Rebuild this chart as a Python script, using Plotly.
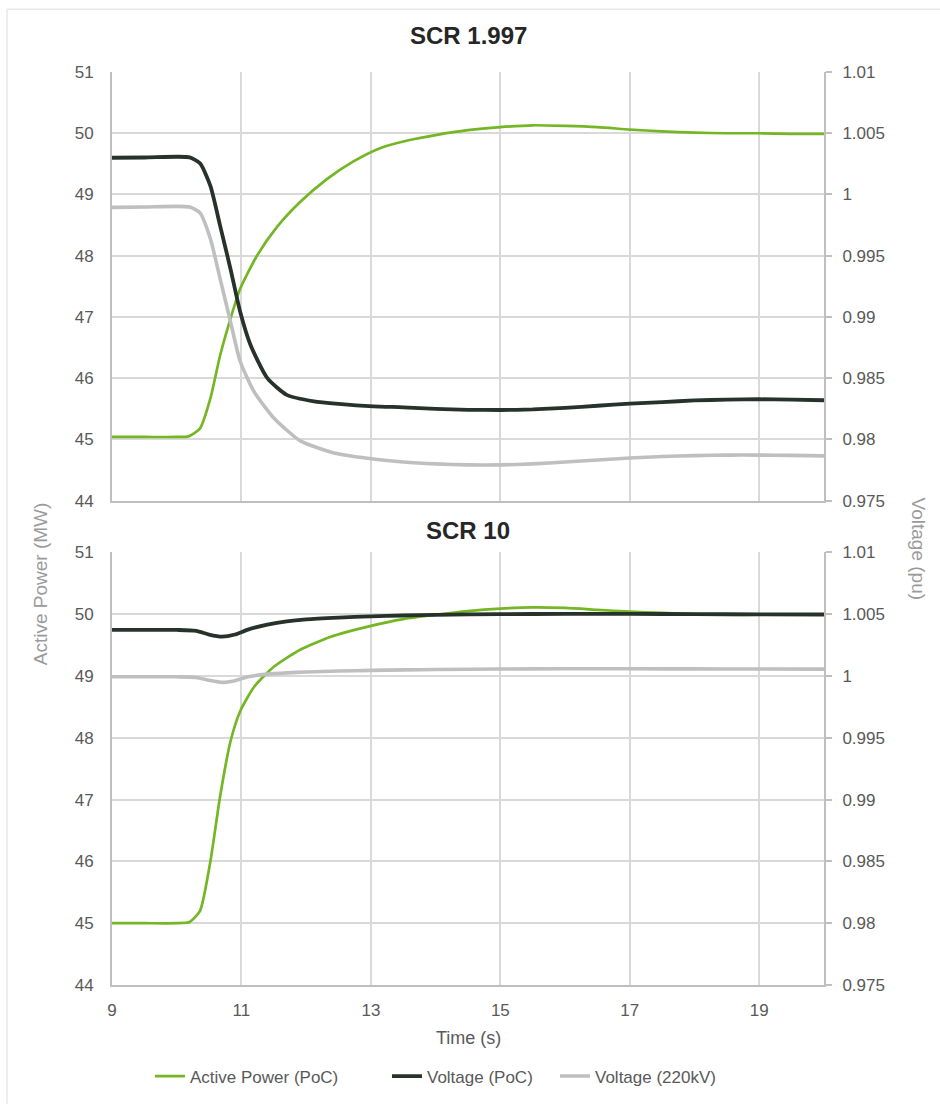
import plotly.graph_objects as go
from plotly.subplots import make_subplots

# ---------------- data ----------------
# SCR 1.997 (top)
t_p1 = [9, 9.5, 10.0, 10.18, 10.36, 10.52, 10.67, 10.83, 10.98, 11.24, 11.55, 11.91, 12.32, 12.73,
        13.15, 13.6, 14.0, 14.5, 15.0, 15.5, 16.0, 16.5, 17.0, 17.5, 18.0, 18.5, 19.0, 19.5, 20.0]
p1 = [45.04, 45.04, 45.04, 45.05, 45.18, 45.67, 46.37, 46.97, 47.46, 48.0, 48.47, 48.88, 49.25, 49.54,
      49.76, 49.89, 49.97, 50.05, 50.1, 50.13, 50.12, 50.1, 50.06, 50.03, 50.01, 50.0, 50.0, 49.99, 49.99]

t_v1 = [9, 9.5, 10.0, 10.2, 10.36, 10.52, 10.67, 10.83, 10.98, 11.14, 11.4, 11.7, 12.12, 12.5, 13.04,
        13.5, 14.0, 14.5, 15.0, 15.5, 16.0, 16.5, 17.0, 17.5, 18.0, 18.5, 19.0, 19.5, 20.0]
v1 = [1.0030, 1.00302, 1.00308, 1.00303, 1.00255, 1.0007, 0.99746, 0.99394, 0.99042, 0.98771, 0.985,
      0.98364, 0.98311, 0.9829, 0.9827, 0.98262, 0.9825, 0.98242, 0.9824, 0.98245, 0.98258, 0.98275,
      0.98292, 0.98305, 0.98318, 0.98325, 0.98328, 0.98325, 0.9832]

t_g1 = [9, 9.5, 10.0, 10.2, 10.36, 10.52, 10.67, 10.83, 10.98, 11.19, 11.5, 11.91, 12.43, 13.1, 13.5,
        14.0, 14.5, 15.0, 15.5, 16.0, 16.5, 17.0, 17.5, 18.0, 18.5, 19.0, 19.5, 20.0]
g1 = [0.99895, 0.99898, 0.99903, 0.99897, 0.9985, 0.99638, 0.99313, 0.98963, 0.98638, 0.98394, 0.98175,
      0.97988, 0.9789, 0.97836, 0.97815, 0.978, 0.97792, 0.97792, 0.978, 0.97815, 0.97832, 0.97848,
      0.9786, 0.97868, 0.97872, 0.97872, 0.9787, 0.97866]

# SCR 10 (bottom)
t_p2 = [9, 9.5, 10.0, 10.2, 10.36, 10.52, 10.67, 10.83, 10.98, 11.2, 11.5, 11.9, 12.37, 13.0, 13.5,
        14.0, 14.5, 15.0, 15.5, 16.0, 16.5, 17.0, 17.5, 18.0, 18.5, 19.0, 19.5, 20.0]
p2 = [45.0, 45.0, 45.0, 45.02, 45.2, 46.0, 47.05, 47.94, 48.43, 48.83, 49.15, 49.42, 49.63, 49.81, 49.92,
      49.99, 50.05, 50.09, 50.11, 50.1, 50.07, 50.04, 50.02, 50.0, 49.99, 49.99, 49.99, 49.99]

t_v2 = [9, 9.5, 10.0, 10.3, 10.5, 10.7, 10.9, 11.1, 11.4, 11.7, 12.0, 12.5, 13.0, 13.5, 14.0, 15.0,
        16.0, 17.0, 18.0, 19.0, 20.0]
v2 = [1.00373, 1.00373, 1.00372, 1.00365, 1.00335, 1.00318, 1.00335, 1.00375, 1.00415, 1.00442, 1.00458,
      1.00472, 1.00482, 1.00489, 1.00494, 1.005, 1.00502, 1.00502, 1.005, 1.00498, 1.00497]
g2 = [0.99994, 0.99994, 0.99993, 0.99988, 0.99965, 0.99948, 0.99962, 0.99993, 1.00015, 1.00025, 1.00032,
      1.0004, 1.00045, 1.00049, 1.00052, 1.00056, 1.00058, 1.00058, 1.00057, 1.00056, 1.00055]

mw_ticks = [44, 45, 46, 47, 48, 49, 50, 51]
pu_ticks = [0.975, 0.98, 0.985, 0.99, 0.995, 1.0, 1.005, 1.01]
pu_labels = ["0.975", "0.98", "0.985", "0.99", "0.995", "1", "1.005", "1.01"]
x_ticks = [9, 11, 13, 15, 17, 19]

series_names = ["Active Power (PoC)", "Voltage (PoC)", "Voltage (220kV)"]
titles = ["SCR 1.997", "SCR 10"]

# ---------------- styling ----------------
GREEN = "#74b623"
DARK = "#26322a"
LGREY = "#bfbfbf"
GRID = "#d9d9d9"
AXIS = "#bfbfbf"
TXT = "#595959"
FONT = "Liberation Sans, Arial, sans-serif"

fig = make_subplots(rows=2, cols=1, specs=[[{"secondary_y": True}], [{"secondary_y": True}]])

legend_ids = ["legend", "legend2", "legend3"]
panels = [(t_p1, p1, t_v1, v1, t_g1, g1), (t_p2, p2, t_v2, v2, t_v2, g2)]
for i, (tp, p, tv, v, tg, g) in enumerate(panels):
    row = i + 1
    show = (i == 0)
    fig.add_trace(go.Scatter(x=tp, y=p, mode="lines", name=series_names[0], legend=legend_ids[0],
                             showlegend=show, line=dict(color=GREEN, width=2.7, shape="spline", smoothing=0.6)),
                  row=row, col=1, secondary_y=False)
    fig.add_trace(go.Scatter(x=tv, y=v, mode="lines", name=series_names[1], legend=legend_ids[1],
                             showlegend=show, line=dict(color=DARK, width=3.8, shape="spline", smoothing=0.6)),
                  row=row, col=1, secondary_y=True)
    fig.add_trace(go.Scatter(x=tg, y=g, mode="lines", name=series_names[2], legend=legend_ids[2],
                             showlegend=show, line=dict(color=LGREY, width=3.6, shape="spline", smoothing=0.6)),
                  row=row, col=1, secondary_y=True)

# plot area: x 112..824, y 72..990 (px)
top_dom = [0.5305, 1.0]
bot_dom = [0.0, 0.4739]

xcommon = dict(range=[9, 20], tickvals=x_ticks, showgrid=True, gridcolor=GRID, gridwidth=1.5,
               showline=True, linecolor=AXIS, linewidth=2, zeroline=False, ticks="",
               tickfont=dict(size=17, color=TXT, family=FONT), domain=[0, 1], fixedrange=True)
fig.update_layout(
    xaxis=dict(**xcommon, showticklabels=False),
    xaxis2=dict(**xcommon, showticklabels=True, ticklabelstandoff=9),
)

ycommon = dict(range=[44, 51], tickvals=mw_ticks, showgrid=True, gridcolor=GRID, gridwidth=1.5,
               showline=True, linecolor=AXIS, linewidth=2, zeroline=False, ticks="",
               ticklabelstandoff=13, tickfont=dict(size=17, color=TXT, family=FONT))
y2common = dict(range=[0.975, 1.01], tickvals=pu_ticks, ticktext=pu_labels, showgrid=False,
                showline=True, linecolor=AXIS, linewidth=2, zeroline=False, ticks="outside",
                ticklen=6, tickcolor=AXIS, tickwidth=1.5, ticklabelstandoff=7,
                tickfont=dict(size=17, color=TXT, family=FONT), side="right")
fig.update_layout(
    yaxis=dict(**ycommon, domain=top_dom),
    yaxis2=dict(**y2common, overlaying="y", anchor="x"),
    yaxis3=dict(**ycommon, domain=bot_dom),
    yaxis4=dict(**y2common, overlaying="y3", anchor="x2"),
)

annotations = [
    dict(text="<b>" + titles[0] + "</b>", x=0.5, y=1.0403, xref="paper", yref="paper", showarrow=False,
         font=dict(size=24, color="#262626", family=FONT), xanchor="center", yanchor="middle"),
    dict(text="<b>" + titles[1] + "</b>", x=0.5, y=0.4978, xref="paper", yref="paper", showarrow=False,
         font=dict(size=24, color="#262626", family=FONT), xanchor="center", yanchor="middle"),
    dict(text="Time (s)", x=0.5, y=-0.0577, xref="paper", yref="paper", showarrow=False,
         font=dict(size=18, color=TXT, family=FONT), xanchor="center", yanchor="middle"),
    dict(text="Active Power (MW)", x=-0.1011, y=0.439, xref="paper", yref="paper", showarrow=False,
         textangle=-90, font=dict(size=19, color="#9a9a9a", family=FONT), xanchor="center", yanchor="middle"),
    dict(text="Voltage (pu)", x=1.132, y=0.478, xref="paper", yref="paper", showarrow=False,
         textangle=90, font=dict(size=19, color="#9a9a9a", family=FONT), xanchor="center", yanchor="middle"),
]

shapes = [
    dict(type="line", xref="paper", yref="paper", x0=-0.1475, x1=1.2, y0=1.0686, y1=1.0686,
         line=dict(color="#e8e8e8", width=1.5)),
    dict(type="line", xref="paper", yref="paper", x0=-0.1475, x1=-0.1475, y0=1.0686, y1=-0.13,
         line=dict(color="#e8e8e8", width=1.5)),
]

leg_common = dict(orientation="h", xanchor="left", y=-0.1002, yanchor="middle",
                  font=dict(size=17, color=TXT, family=FONT), itemwidth=30, bgcolor="rgba(0,0,0,0)")

fig.update_layout(
    width=940, height=1106,
    margin=dict(l=112, r=116, t=72, b=116),
    paper_bgcolor="white", plot_bgcolor="white",
    font=dict(family=FONT, color=TXT),
    annotations=annotations, shapes=shapes,
    legend=dict(**leg_common, x=0.0533),
    legend2=dict(**leg_common, x=0.3862),
    legend3=dict(**leg_common, x=0.6222),
    showlegend=True,
)

fig.write_html("out.html")
